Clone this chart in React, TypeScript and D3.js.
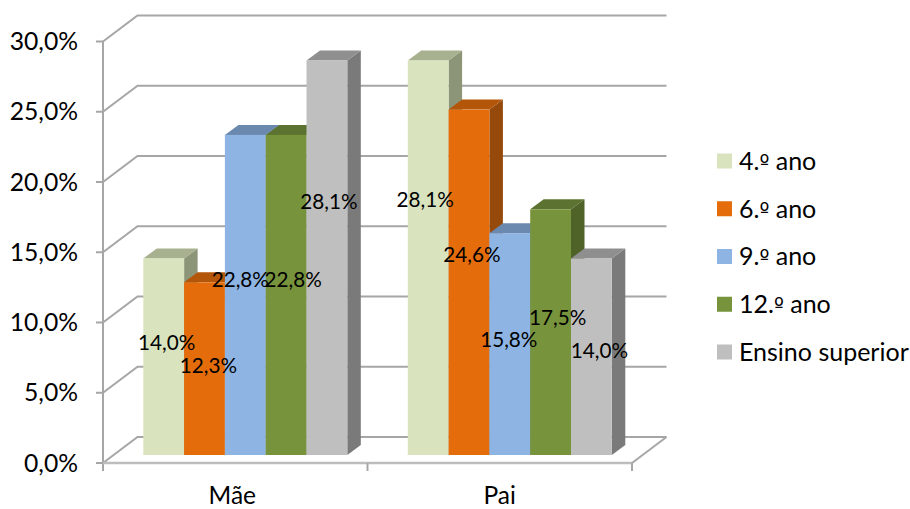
import React from "react";
import * as d3 from "d3";

const categories = ["Mãe", "Pai"];
const seriesNames = ["4.º ano", "6.º ano", "9.º ano", "12.º ano", "Ensino superior"];
const maeValues = [14.0, 12.3, 22.8, 22.8, 28.1];
const paiValues = [28.1, 24.6, 15.8, 17.5, 14.0];
const axisTicks = [0, 5, 10, 15, 20, 25, 30];

// Face colours per series: front, top, side
const frontColors = ["#d9e4bf", "#e46c0a", "#8eb4e3", "#77933c", "#bfbfbf"];
const topColors = ["#a8b18f", "#b3560a", "#6b89af", "#5c7230", "#8f8f8f"];
const sideColors = ["#8d9578", "#95490a", "#5d7899", "#4f6228", "#7a7a7a"];

// Hand-placed data label nudges from each bar's centre
const maeLabelNudge = [[3, -14], [4, -3], [-5, -15], [7, -15], [2, -56]];
const paiLabelNudge = [[-3, -58], [3, -28], [-1, -4], [7, -14], [8, -6]];
const categoryLabelNudge = [-3, 0];

const FONT = "Lato, 'Open Sans', sans-serif";
const GRID = "#a6a6a6";

const frontLeft = 103;
const frontRight = 632;
const floorY = 463;
const depthX = 34.5;
const depthY = 26;
const barBase = 455;
const barDepthX = 13.5;
const barDepthY = 10;

const fmt = (v: number) => v.toFixed(1).replace(".", ",") + "%";

// Lato's ordinal has no underbar, so that one glyph comes from DejaVu Sans
function LegendLabel({ text }: { text: string }) {
  const at = text.indexOf("º");
  if (at < 0) return <>{text}</>;
  return (
    <>
      {text.slice(0, at)}
      <tspan fontFamily="'DejaVu Sans'" fontSize={21}>º</tspan>
      {text.slice(at + 1)}
    </>
  );
}

export default function App() {
  // Wall scale runs along the front plane of the axis box
  const yAxis = d3.scaleLinear().domain([0, 30]).range([floorY, 41.5]);
  const yBar = d3.scaleLinear().domain([0, 30]).range([barBase, barBase - 421.2]);
  const xCat = d3.scaleBand().domain(categories).range([frontLeft, frontRight]);
  const xSeries = d3
    .scaleBand()
    .domain(seriesNames)
    .range([40.3, 40.3 + 204]);
  const legendY = d3
    .scalePoint()
    .domain(seriesNames)
    .range([161, 352]);

  const rows = [
    { cat: "Mãe", values: maeValues, nudges: maeLabelNudge },
    { cat: "Pai", values: paiValues, nudges: paiLabelNudge },
  ];

  return (
    <svg
      width={910}
      height={509}
      style={{ position: "absolute", left: 0, top: 0, background: "#fff" }}
      fontFamily={FONT}
    >
      {/* Back wall gridlines and their left-wall returns */}
      {axisTicks.map((t) => {
        const y = yAxis(t);
        return (
          <g key={t} stroke={GRID} strokeWidth={2} fill="none">
            <path d={`M${frontLeft},${y}L${frontLeft + depthX},${y - depthY}L${frontRight + depthX},${y - depthY}`} />
            <line x1={frontLeft - 7} x2={frontLeft} y1={y} y2={y} />
          </g>
        );
      })}

      {/* Floor edge, value axis and category ticks */}
      <g stroke={GRID} fill="none" strokeWidth={2}>
        <line x1={frontLeft} x2={frontLeft} y1={yAxis(30)} y2={floorY + 8} />
        <line x1={frontLeft} x2={frontRight} y1={floorY} y2={floorY} stroke="#bdbdbd" strokeWidth={2.5} />
        <line x1={frontRight} x2={frontRight + depthX} y1={floorY} y2={floorY - depthY} />
        {categories.map((c) => (
          <line key={c} x1={xCat(c)! + xCat.bandwidth()} x2={xCat(c)! + xCat.bandwidth()} y1={floorY} y2={floorY + 8} />
        ))}
      </g>

      {/* Bars, painted left to right so each front covers the previous side */}
      {rows.map((row) =>
        row.values.map((v, i) => {
          const x0 = xCat(row.cat)! + xSeries(seriesNames[i])!;
          const x1 = x0 + xSeries.bandwidth();
          const yt = yBar(v);
          return (
            <g key={row.cat + i}>
              <path
                d={`M${x1},${yt}L${x1 + barDepthX},${yt - barDepthY}L${x1 + barDepthX},${barBase - barDepthY}L${x1},${barBase}Z`}
                fill={sideColors[i]}
              />
              <path
                d={`M${x0},${yt}L${x0 + barDepthX},${yt - barDepthY}L${x1 + barDepthX},${yt - barDepthY}L${x1},${yt}Z`}
                fill={topColors[i]}
              />
              <rect x={x0} y={yt} width={x1 - x0} height={barBase - yt} fill={frontColors[i]} />
            </g>
          );
        })
      )}

      {/* Data labels sit on top of every bar */}
      {rows.map((row) =>
        row.values.map((v, i) => {
          const x0 = xCat(row.cat)! + xSeries(seriesNames[i])!;
          const cx = x0 + xSeries.bandwidth() / 2 + row.nudges[i][0];
          const cy = (yBar(v) + barBase) / 2 + row.nudges[i][1];
          return (
            <text key={row.cat + i} x={cx} y={cy} dy="0.35em" textAnchor="middle" fontSize={20.7} fill="#000">
              {fmt(v)}
            </text>
          );
        })
      )}

      {/* Value axis labels */}
      {axisTicks.map((t) => (
        <text key={t} x={78} y={yAxis(t)} dy="0.35em" textAnchor="end" fontSize={24.7} fill="#000">
          {fmt(t)}
        </text>
      ))}

      {/* Category labels */}
      {categories.map((c, i) => (
        <text
          key={c}
          x={xCat(c)! + xCat.bandwidth() / 2 + categoryLabelNudge[i]}
          y={504}
          textAnchor="middle"
          fontSize={24.5}
          fill="#000"
        >
          {c}
        </text>
      ))}

      {/* Legend */}
      {seriesNames.map((s, i) => (
        <g key={s}>
          <rect x={717} y={legendY(s)! - 7.5} width={15} height={15} fill={frontColors[i]} />
          <text x={739} y={legendY(s)!} dy="0.35em" fontSize={25} fill="#000">
            <LegendLabel text={s} />
          </text>
        </g>
      ))}
    </svg>
  );
}
